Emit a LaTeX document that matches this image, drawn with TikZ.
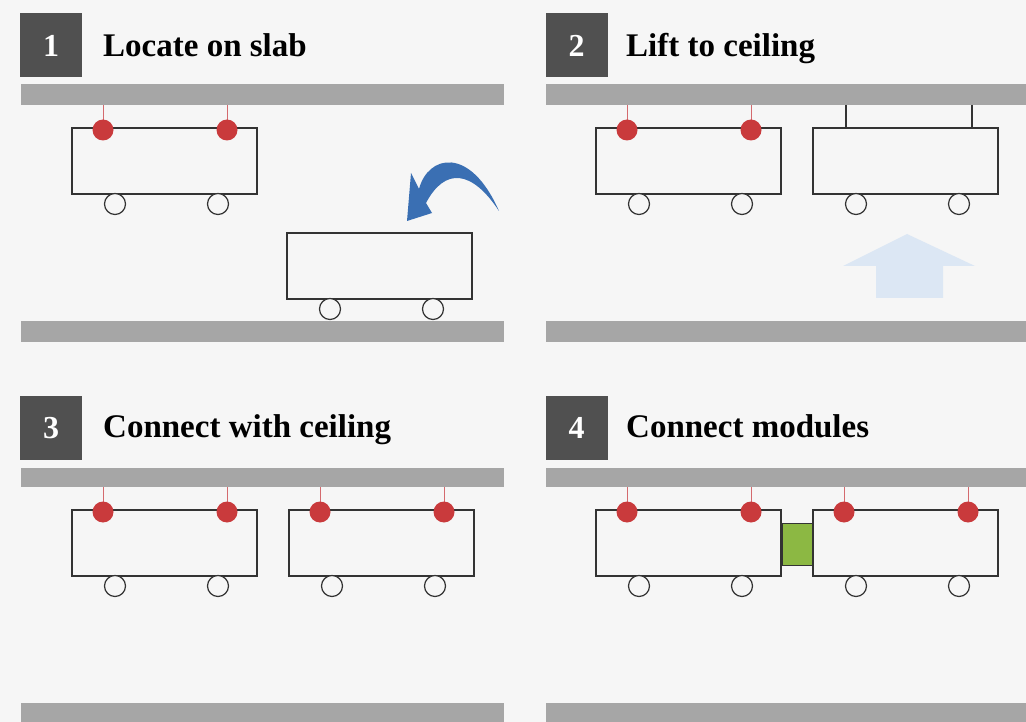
\documentclass[tikz,border=0pt]{standalone}
\usepackage{fontspec}
\setmainfont{Liberation Serif}
\definecolor{bgc}{HTML}{F6F6F6}
\definecolor{slabc}{HTML}{A6A6A6}
\definecolor{numc}{HTML}{505050}
\definecolor{linec}{HTML}{333333}
\definecolor{redc}{HTML}{C93A3C}
\definecolor{hangc}{HTML}{D46A6E}
\definecolor{bluec}{HTML}{3A6FB3}
\definecolor{lbluec}{HTML}{DCE7F4}
\definecolor{greenc}{HTML}{8CB843}
\tikzset{
  slab/.style={fill=slabc, draw=none},
  numbox/.style={fill=numc, draw=none, minimum width=62pt, minimum height=64pt, inner sep=0pt},
  numtext/.style={text=white, font=\fontsize{32}{34}\selectfont\bfseries, inner sep=0pt},
  title/.style={font=\fontsize{33}{36}\selectfont\bfseries, text=black, inner sep=0pt},
  modbox/.style={draw=linec, line width=1.3pt, fill=bgc},
  wheel/.style={draw=linec, line width=1.2pt, fill=bgc},
  hanger/.style={draw=hangc, line width=0.9pt},
  blackhanger/.style={draw=linec, line width=1.1pt},
  bolt/.style={fill=redc, draw=none},
  cart/.pic={
    \draw[modbox] (0,0) rectangle (185,66);
    \draw[wheel] (43,76) circle[radius=10.5];
    \draw[wheel] (146,76) circle[radius=10.5];
  },
  bolts/.pic={
    \draw[hanger] (31,-23) -- (31,-8);
    \draw[hanger] (155,-23) -- (155,-8);
    \fill[bolt] (31,2) circle[radius=10.5];
    \fill[bolt] (155,2) circle[radius=10.5];
  }
}
\begin{document}
\begin{tikzpicture}[x=1pt,y=-1pt]
\useasboundingbox (0,0) rectangle (1026,722);
\fill[bgc] (0,0) rectangle (1026,722);

% ---------- Panel 1 ----------
\node[numbox, anchor=north west] (nb1) at (20,13) {};
\node[numtext, anchor=base] (nt1) at (51,57) {1};
\node[title, anchor=base west] (t1) at (103,57) {Locate on slab};
\fill[slab] (21,84) rectangle (504,105);
\fill[slab] (21,321) rectangle (504,342);
\pic at (72,128) {cart};
\pic at (72,128) {bolts};
\pic at (287,233) {cart};
\fill[bluec] (407,221) -- (411,173) -- (419,189)
  .. controls (428,155) and (470,145) .. (499,211)
  .. controls (472,170) and (445,167) .. (426,203)
  -- (432,213) -- cycle;

% ---------- Panel 2 ----------
\node[numbox, anchor=north west] (nb2) at (546,13) {};
\node[numtext, anchor=base] (nt2) at (576.5,57) {2};
\node[title, anchor=base west] (t2) at (626,57) {Lift to ceiling};
\fill[slab] (546,84) rectangle (1026,105);
\fill[slab] (546,321) rectangle (1026,342);
\pic at (596,128) {cart};
\pic at (596,128) {bolts};
\draw[blackhanger] (846,105) -- (846,128);
\draw[blackhanger] (972,105) -- (972,128);
\pic at (813,128) {cart};
\fill[lbluec] (843,266) -- (907,234) -- (975,266) -- (943,266) -- (943,298)
  -- (876,298) -- (876,266) -- cycle;

% ---------- Panel 3 ----------
\node[numbox, anchor=north west] (nb3) at (20,396) {};
\node[numtext, anchor=base] (nt3) at (51,438) {3};
\node[title, anchor=base west] (t3) at (103,437) {Connect with ceiling};
\fill[slab] (21,468) rectangle (504,487);
\fill[slab] (21,703) rectangle (504,722);
\pic at (72,510) {cart};
\pic at (72,510) {bolts};
\pic at (289,510) {cart};
\pic at (289,510) {bolts};

% ---------- Panel 4 ----------
\node[numbox, anchor=north west] (nb4) at (546,396) {};
\node[numtext, anchor=base] (nt4) at (576.5,438) {4};
\node[title, anchor=base west] (t4) at (626,437) {Connect modules};
\fill[slab] (546,468) rectangle (1026,487);
\fill[slab] (546,703) rectangle (1026,722);
\draw[fill=greenc, draw=linec, line width=0.8pt] (782,523) rectangle (813,565);
\pic at (596,510) {cart};
\pic at (596,510) {bolts};
\pic at (813,510) {cart};
\pic at (813,510) {bolts};
\end{tikzpicture}
\end{document}
